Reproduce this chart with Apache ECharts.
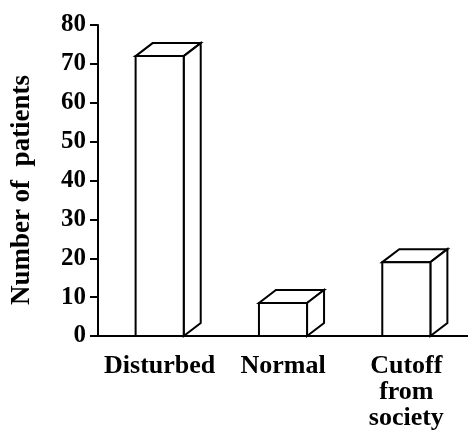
<!DOCTYPE html>
<html>
<head>
<meta charset="utf-8">
<script src="https://cdn.jsdelivr.net/npm/echarts@6/dist/echarts.min.js"></script>
<style>
  html, body { margin: 0; padding: 0; background: #fff; }
  #chart { width: 468px; height: 441px; }
</style>
</head>
<body>
<div id="chart"></div>
<script>
const categories = ['Disturbed', 'Normal', 'Cutoff\nfrom\nsociety']
const patients = [72, 8.5, 19]
const yTicks = { min: 0, max: 80, interval: 10 }

const font = '"Liberation Serif", "Times New Roman", serif'
const ink = '#000'

const chart = echarts.init(document.getElementById('chart'))

// front face + top + right side, like the old 3D column charts
const renderBox = (params, api) => {
  const base = api.coord([api.value(0), 0])
  const top = api.coord([api.value(0), api.value(1)])
  const w = api.size([1, 0])[0] * 0.39
  const x0 = base[0] - w / 2
  const x1 = base[0] + w / 2
  const y0 = base[1]
  const y1 = top[1]
  const dx = 17
  const dy = 13
  const style = { fill: '#fff', stroke: ink, lineWidth: 2, lineJoin: 'miter' }
  return {
    type: 'group',
    children: [
      { type: 'polygon', shape: { points: [[x0, y1], [x0 + dx, y1 - dy], [x1 + dx, y1 - dy], [x1, y1]] }, style },
      { type: 'polygon', shape: { points: [[x1, y0], [x1, y1], [x1 + dx, y1 - dy], [x1 + dx, y0 - dy]] }, style },
      { type: 'rect', shape: { x: x0, y: y1, width: w, height: y0 - y1 }, style }
    ]
  }
}

chart.setOption({
  animation: false,
  grid: { left: 98, right: -5, top: 25, bottom: 105 },
  xAxis: {
    type: 'category',
    data: categories,
    axisLine: { lineStyle: { color: ink, width: 2 } },
    axisTick: { length: 6, lineStyle: { color: ink, width: 2 } },
    axisLabel: {
      color: ink,
      fontFamily: font,
      fontWeight: 'bold',
      fontSize: 26,
      lineHeight: 26,
      margin: 17,
      interval: 0
    }
  },
  yAxis: {
    type: 'value',
    min: yTicks.min,
    max: yTicks.max,
    interval: yTicks.interval,
    name: 'Number of  patients',
    nameLocation: 'middle',
    nameGap: 62,
    nameTextStyle: {
      color: ink,
      fontFamily: font,
      fontWeight: 'bold',
      fontSize: 27,
      padding: [0, 0, 0, -19]
    },
    splitLine: { show: false },
    axisLine: { show: true, lineStyle: { color: ink, width: 2 } },
    axisTick: { show: true, length: 8, lineStyle: { color: ink, width: 2 } },
    axisLabel: {
      color: ink,
      fontFamily: font,
      fontWeight: 'bold',
      fontSize: 25,
      margin: 12
    }
  },
  series: [
    {
      type: 'custom',
      renderItem: renderBox,
      data: patients.map((v, i) => [i, v]),
      encode: { x: 0, y: 1 },
      z: 1
    }
  ]
})
</script>
</body>
</html>
